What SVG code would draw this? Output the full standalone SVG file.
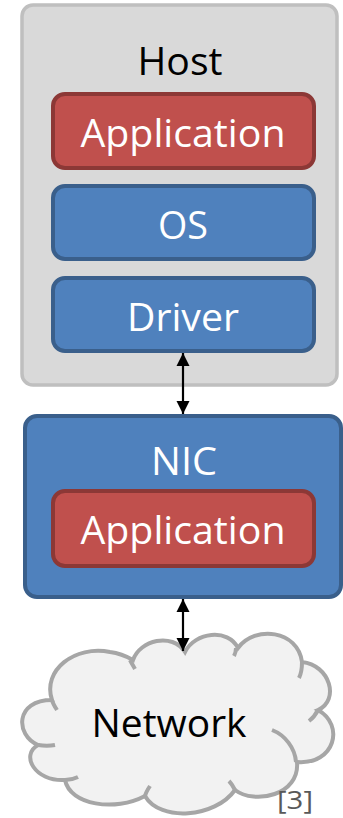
<svg xmlns="http://www.w3.org/2000/svg" width="343" height="818" viewBox="0 0 343 818">
<style>
.t{font-family:"Open Sans","Liberation Sans",sans-serif;font-size:39px;text-anchor:middle}
.w{fill:#ffffff}
.k{fill:#000000}
.red{fill:#c0504d;stroke:#8c3836;stroke-width:4}
.blue{fill:#4f81bd;stroke:#3a5f8b;stroke-width:4}
.con{stroke:#000;stroke-width:2.2;fill:none}
</style>
<defs>
<marker id="ah" viewBox="0 0 10 10" refX="10" refY="5" markerWidth="6" markerHeight="6" orient="auto-start-reverse" markerUnits="strokeWidth">
<path d="M0,0 L10,5 L0,10 Z" fill="#000"/>
</marker>
</defs>
<g id="host">
<rect x="22" y="5" width="315" height="380" rx="11" fill="#d9d9d9" stroke="#bfbfbf" stroke-width="3.5"/>
<text class="t k" x="180" y="75" textLength="85" lengthAdjust="spacingAndGlyphs">Host</text>
</g>
<g id="host-app">
<rect class="red" x="53" y="94" width="261" height="74" rx="12"/>
<text class="t w" x="183" y="147" textLength="205" lengthAdjust="spacingAndGlyphs">Application</text>
</g>
<g id="os">
<rect class="blue" x="53" y="186" width="261" height="73" rx="12"/>
<text class="t w" x="183" y="239" textLength="50" lengthAdjust="spacingAndGlyphs">OS</text>
</g>
<g id="driver">
<rect class="blue" x="53" y="278" width="261" height="73" rx="12"/>
<text class="t w" x="183" y="331" textLength="112" lengthAdjust="spacingAndGlyphs">Driver</text>
</g>
<g id="nic">
<rect class="blue" x="25" y="416" width="316" height="181" rx="12"/>
<text class="t w" x="184" y="475" textLength="66" lengthAdjust="spacingAndGlyphs">NIC</text>
</g>
<g id="nic-app">
<rect class="red" x="53" y="491" width="261" height="75" rx="12"/>
<text class="t w" x="183" y="544" textLength="205" lengthAdjust="spacingAndGlyphs">Application</text>
</g>
<g id="network">
<path d="M 52,700 C 42,670 75,645 110,652 C 118,653 126,656 133,660 C 140,640 172,632 185,652 C 195,632 228,628 238,648 C 255,625 298,630 302,662 C 330,665 340,700 318,710 C 345,725 335,765 297,762 C 300,795 255,805 235,790 C 215,818 160,822 145,796 C 115,812 70,805 65,780 C 35,782 20,755 38,745 C 15,735 15,700 52,700 Z" fill="#f2f2f2" stroke="#a6a6a6" stroke-width="4"/>
<path d="M 130,660 C 132,664 134,667 135,669 M 236,648 C 236,651 235,654 234,656 M 302,662 C 302,668 301,674 299,678 M 318,710 C 316,714 313,718 309,721 M 272,730 C 285,735 295,748 296,762 M 235,790 C 233,786 231,783 229,781 M 145,796 C 146,792 148,789 150,786 M 65,780 C 70,780 74,779 78,777 M 38,745 C 44,746 50,746 55,745 M 52,700 C 53,704 55,707 57,710" fill="none" stroke="#a6a6a6" stroke-width="4"/>
<text class="t k" x="169" y="737" textLength="155" lengthAdjust="spacingAndGlyphs">Network</text>
<text x="295" y="809" font-family="Open Sans, Liberation Sans, sans-serif" font-size="26" fill="#595959" text-anchor="middle" textLength="36" lengthAdjust="spacingAndGlyphs">[3]</text>
</g>
<g id="connectors">
<line class="con" x1="183" y1="353" x2="183" y2="414" marker-start="url(#ah)" marker-end="url(#ah)"/>
<line class="con" x1="183" y1="599" x2="183" y2="651" marker-start="url(#ah)" marker-end="url(#ah)"/>
</g>
</svg>
